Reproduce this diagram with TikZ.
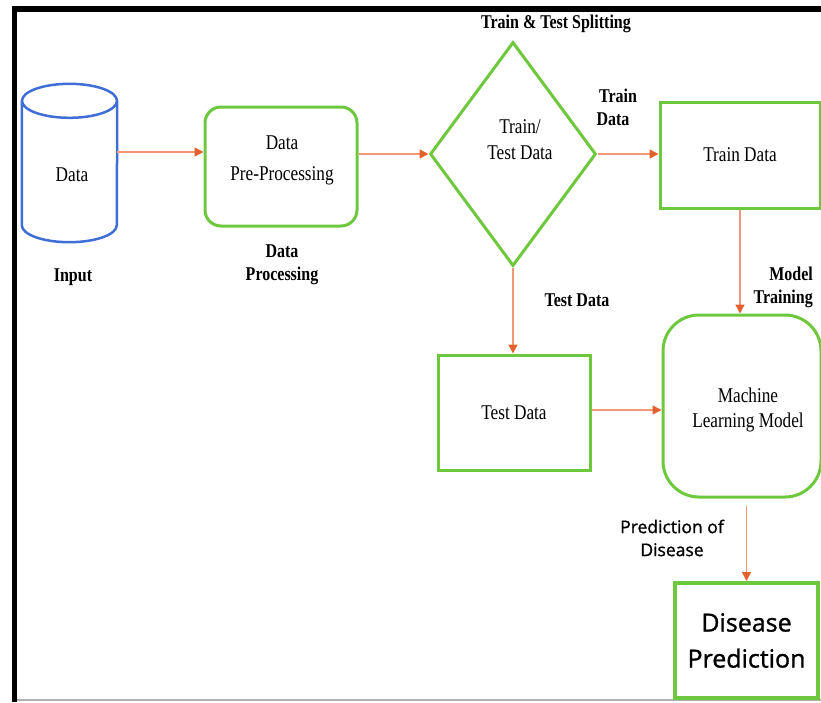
\documentclass[tikz,border=0pt]{standalone}
\usepackage{fontspec}
\setmainfont{Liberation Serif}[FakeStretch=0.82]
\newfontfamily\sansf{Open Sans}[FakeBold=1.2]
\usetikzlibrary{arrows.meta,shapes.geometric}
\definecolor{boxgreen}{RGB}{110,200,62}
\definecolor{dbblue}{RGB}{62,110,214}
\definecolor{flowline}{RGB}{240,152,120}
\definecolor{flowhead}{RGB}{228,96,44}
\definecolor{framegray}{RGB}{176,176,176}
\begin{document}
\begin{tikzpicture}[x=1pt,y=-1pt,
  greenbox/.style={draw=boxgreen,line width=3pt,rectangle,align=center,inner sep=0pt,
    font=\fontsize{21}{26}\selectfont},
  flow/.style={draw=flowline,line width=1.5pt,
    -{Triangle[length=9pt,width=9pt,color=flowhead]}},
  lbl/.style={font=\fontsize{19.5}{23}\selectfont\bfseries,align=center,inner sep=0pt},
  plain/.style={font=\fontsize{21}{26}\selectfont,align=center,inner sep=0pt}]
\useasboundingbox (0,0) rectangle (821,702);
% frame
\draw[black,line width=6pt] (12,8.5) -- (821,8.5);
\draw[black,line width=5pt] (14.5,5.5) -- (14.5,702);
\draw[framegray,line width=2pt] (17,699.5) -- (821,699.5);

% data store (cylinder)
\node[minimum width=95pt,minimum height=158pt,inner sep=0pt] (data) at (69.5,163) {};
\draw[dbblue,line width=2.5pt]
  ([yshift=-17pt]data.north) ellipse [x radius=47.5pt,y radius=17pt]
  ([yshift=-17pt]data.north west) -- ([yshift=17pt]data.south west)
  arc[start angle=180,end angle=360,x radius=47.5pt,y radius=17pt]
  -- ([yshift=-17pt]data.north east);
\node[plain] (datatxt) at (72,175) {Data};
\node[lbl] (input) at (73,277) {Input};

% pre-processing
\node[greenbox,rounded corners=16pt,minimum width=152pt,minimum height=119pt] (pre) at (281,166.5) {};
\node[plain,font=\fontsize{21}{31}\selectfont] (pretxt) at (282,160) {Data\\Pre-Processing};
\node[lbl] (proc) at (282,265) {Data\\Processing};

% split decision
\node[draw=boxgreen,line width=3pt,diamond,inner sep=0pt,minimum width=166pt,minimum height=224pt] (split) at (513,154) {};
\node[plain] (splittxt) at (520,140) {Train/\\Test Data};
\node[lbl] (splitlbl) at (556,24) {Train \& Test Splitting};

% train / test boxes
\node[greenbox,minimum width=160pt,minimum height=106pt] (train) at (740,155) {Train Data};
\node[greenbox,minimum width=152pt,minimum height=115pt] (test) at (514,412.5) {Test Data};
\node[greenbox,rounded corners=36pt,minimum width=158pt,minimum height=182pt] (ml) at (742,406) {};
\node[plain,font=\fontsize{21}{25}\selectfont] (mltxt) at (748,410) {Machine\\Learning Model};
\node[draw=boxgreen,line width=4pt,minimum width=143pt,minimum height=115pt,inner sep=0pt,
  align=center,font=\sansf\fontsize{25}{36}\selectfont] (pred) at (746.5,640.5) {Disease\\Prediction};

% edge labels
\node[lbl] (trainlbl) at (613,107) {\hspace*{10pt}Train\\Data};
\node[lbl,anchor=east,align=right] (mtlbl) at (813,287) {Model\\Training};
\node[lbl] (testlbl) at (577,300) {Test Data};
\node[inner sep=0pt,align=center,font=\sansf\fontsize{17.5}{23}\selectfont] (podlbl) at (672,538) {Prediction of\\Disease};

% connectors
\draw[flow] (data.east |- 0,152) -- (pre.west |- 0,152);
\draw[flow] (pre.east |- split.west) -- (split.west);
\draw[flow] (split.east) -- (train.west |- split.east);
\draw[flow] (split.south) -- (test.north -| split.south);
\draw[flow] (train.south) -- (ml.north -| train.south);
\draw[flow] (test.east |- 0,410) -- (ml.west |- 0,410);
\draw[flow,shorten <=7pt] (ml.south -| pred.north) -- (pred.north);
\end{tikzpicture}
\end{document}
